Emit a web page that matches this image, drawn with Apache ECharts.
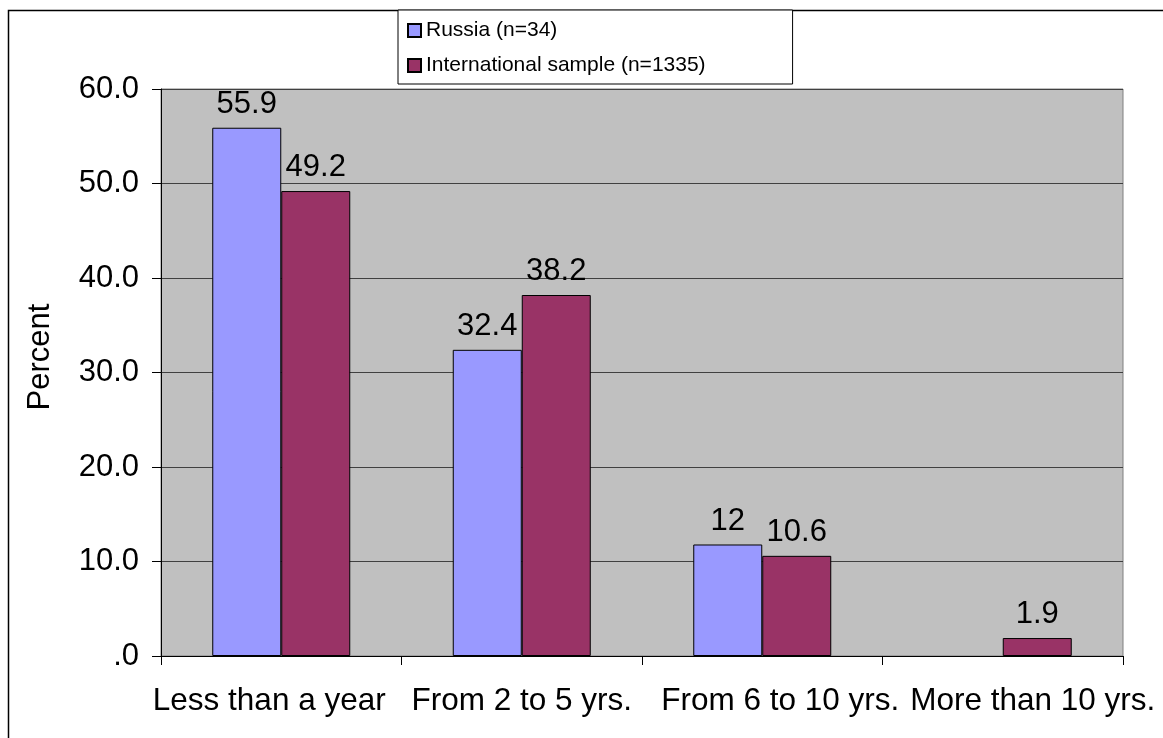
<!DOCTYPE html>
<html>
<head>
<meta charset="utf-8">
<script src="https://cdn.jsdelivr.net/npm/echarts@6/dist/echarts.min.js"></script>
<style>
html,body{margin:0;padding:0;background:#fff;}
#chart{width:1163px;height:738px;}
</style>
</head>
<body>
<div id="chart"></div>
<script>
var categories = ['Less than a year', 'From 2 to 5 yrs.', 'From 6 to 10 yrs.', 'More than 10 yrs.'];
var seriesNames = ['Russia (n=34)', 'International sample (n=1335)'];
var russiaValues = [55.9, 32.4, 11.8, null];
var russiaLabels = ['55.9', '32.4', '12', ''];
var intlValues = [49.2, 38.2, 10.6, 1.9];
var intlLabels = ['49.2', '38.2', '10.6', '1.9'];
var yTickLabels = ['.0', '10.0', '20.0', '30.0', '40.0', '50.0', '60.0'];
var axisTitle = 'Percent';

var FONT = '"Liberation Sans", Arial, sans-serif';
var labelShift = [-12, 0, 18, 30];

var chart = echarts.init(document.getElementById('chart'), null, {renderer: 'canvas'});

var richStyles = {};
labelShift.forEach(function (s, i) {
  richStyles['c' + i] = {
    fontSize: 31.5, fontFamily: FONT, color: '#000',
    padding: s >= 0 ? [0, 0, 0, 2 * s] : [0, -2 * s, 0, 0]
  };
});

var option = {
  backgroundColor: '#fff',
  animation: false,
  textStyle: {fontFamily: FONT},
  graphic: [
    {
      type: 'rect', silent: true, z: -10,
      shape: {x: 8.5, y: 10.5, width: 1200, height: 800},
      style: {fill: 'none', stroke: '#000', lineWidth: 1.5}
    },
    {
      type: 'text', x: 40, y: 357, rotation: Math.PI / 2,
      style: {text: axisTitle, fontSize: 31, fontFamily: FONT, fill: '#000',
              align: 'center', verticalAlign: 'middle'}
    }
  ],
  legend: {
    orient: 'vertical',
    left: 398, top: 10,
    icon: 'rect',
    itemWidth: 13, itemHeight: 13, itemGap: 14,
    padding: [10, 87, 8, 9],
    borderColor: '#000', borderWidth: 1,
    backgroundColor: '#fff',
    textStyle: {fontSize: 21, fontFamily: FONT, color: '#000'},
    data: seriesNames
  },
  grid: {
    left: 161, right: 40, top: 89, bottom: 82,
    show: true, backgroundColor: '#C0C0C0',
    borderColor: '#808080', borderWidth: 1
  },
  xAxis: {
    type: 'category',
    data: categories,
    axisLine: {lineStyle: {color: '#000', width: 1}},
    axisTick: {show: true, length: 9, alignWithLabel: false, lineStyle: {color: '#000'}},
    axisLabel: {
      interval: 0, margin: 29, color: '#000', fontSize: 31.5, fontFamily: FONT,
      formatter: function (v, i) { return '{c' + i + '|' + v + '}'; },
      rich: richStyles
    }
  },
  yAxis: {
    type: 'value',
    min: 0, max: 60, interval: 10,
    axisLine: {show: true, lineStyle: {color: '#000', width: 1}},
    axisTick: {show: true, length: 9, lineStyle: {color: '#000'}},
    axisLabel: {
      margin: 22, color: '#000', fontSize: 31, fontFamily: FONT,
      formatter: function (v) { return yTickLabels[Math.round(v / 10)]; }
    },
    splitLine: {show: true, lineStyle: {color: '#404040', width: 1}}
  },
  series: [
    {
      name: seriesNames[0], type: 'bar',
      data: russiaValues,
      barWidth: 69, barGap: '0%',
      itemStyle: {color: '#9999FF', borderColor: '#000', borderWidth: 1},
      label: {
        show: true, position: 'top', distance: 8,
        fontSize: 31, fontFamily: FONT, color: '#000',
        formatter: function (p) { return russiaLabels[p.dataIndex]; }
      }
    },
    {
      name: seriesNames[1], type: 'bar',
      data: intlValues,
      barWidth: 69, barGap: '0%',
      itemStyle: {color: '#993366', borderColor: '#000', borderWidth: 1},
      label: {
        show: true, position: 'top', distance: 8,
        fontSize: 31, fontFamily: FONT, color: '#000',
        formatter: function (p) { return intlLabels[p.dataIndex]; }
      }
    }
  ]
};
chart.setOption(option);
</script>
</body>
</html>
